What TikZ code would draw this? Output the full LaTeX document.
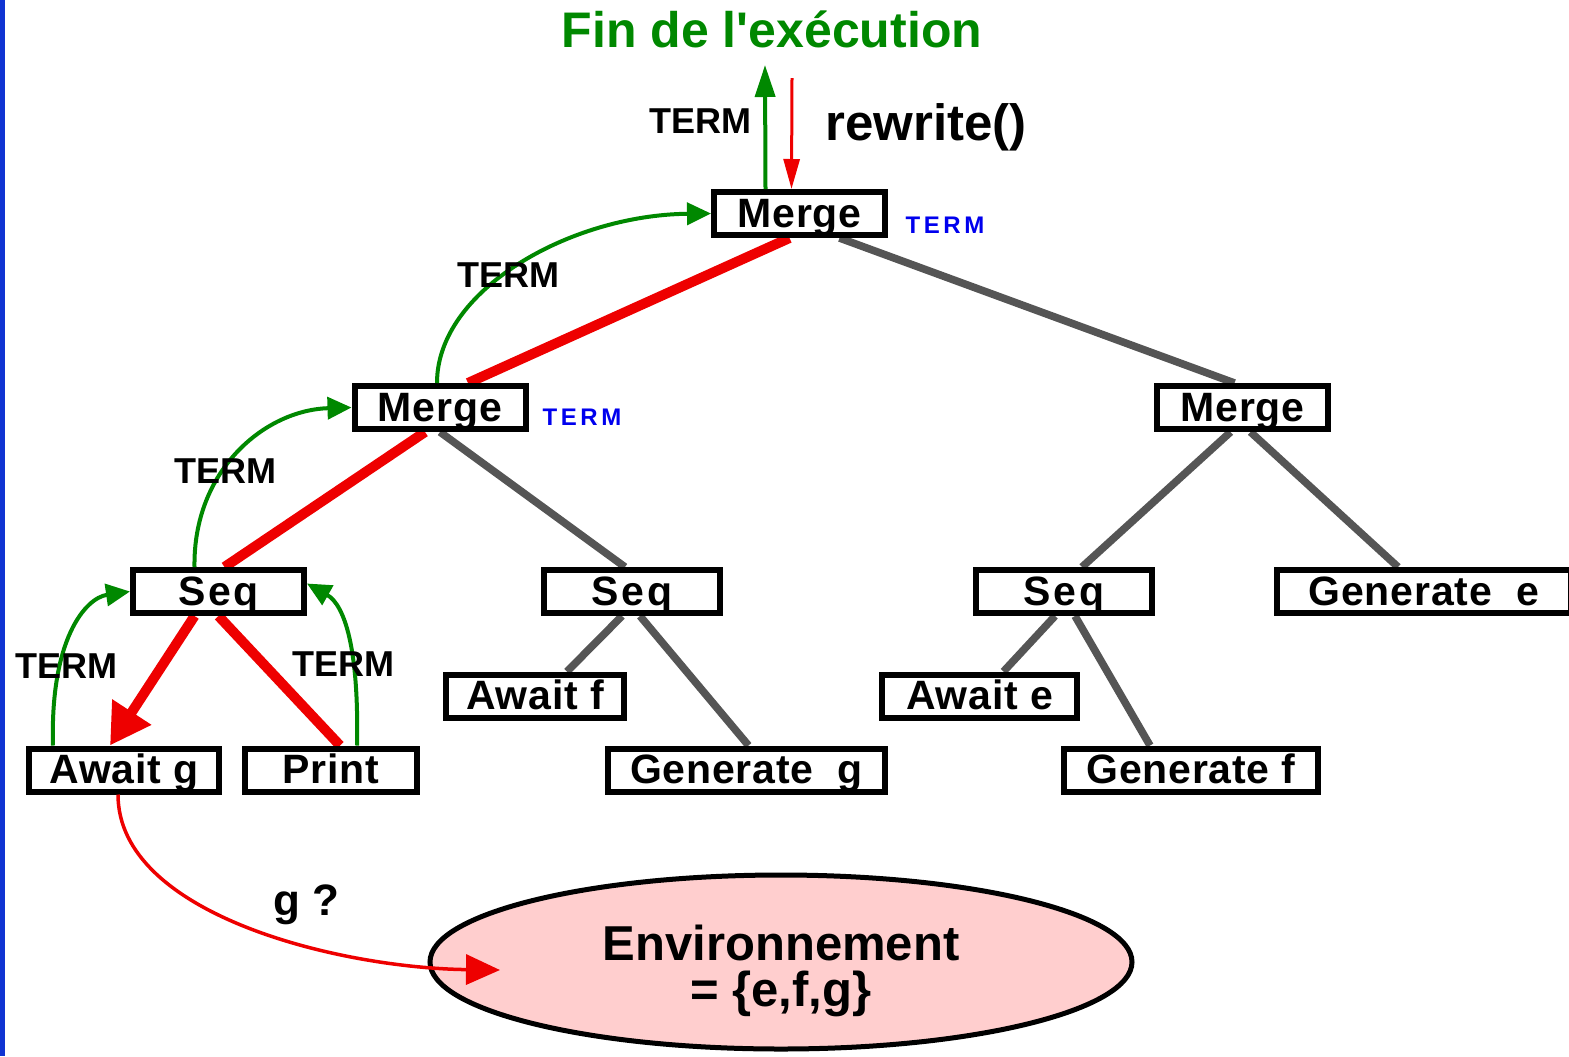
\documentclass[tikz,border=0pt]{standalone}
\usepackage{fontspec}
\setmainfont{Liberation Sans}
\usetikzlibrary{arrows.meta,shapes.geometric,backgrounds,calc}

\definecolor{termgreen}{RGB}{0,136,0}
\definecolor{pathred}{RGB}{238,0,0}
\definecolor{edgegray}{RGB}{85,85,85}
\definecolor{termblue}{RGB}{0,0,238}
\definecolor{envpink}{RGB}{255,206,206}
\definecolor{barblue}{RGB}{16,52,210}

\begin{document}
\begin{tikzpicture}[x=0.5pt,y=-0.5pt,
  opbox/.style={draw=black,line width=3pt,fill=white,inner sep=0pt,
    minimum height=21.5pt,text height=15pt,text depth=1.5pt,
    font=\fontsize{20.5}{21}\selectfont\bfseries\addfontfeature{LetterSpace=2}},
  seqbox/.style={opbox,font=\fontsize{20.5}{21}\selectfont\bfseries\addfontfeature{LetterSpace=7}},
  treeedge/.style={edgegray,line width=3.8pt},
  pathedge/.style={pathred,line width=5pt},
  termarrow/.style={termgreen,line width=2pt,-{Triangle[length=12pt,width=11pt]}},
  termlbl/.style={inner sep=0pt,anchor=base,font=\fontsize{18}{18}\selectfont\bfseries},
  bluelbl/.style={inner sep=0pt,anchor=base,termblue,
    font=\fontsize{12}{12}\selectfont\bfseries\addfontfeature{LetterSpace=15}},
  biglbl/.style={inner sep=0pt,anchor=base,font=\fontsize{25}{25}\selectfont\bfseries},
  envnode/.style={ellipse,draw=black,line width=2.5pt,fill=envpink,inner sep=0pt,
    minimum width=351pt,minimum height=87pt,align=center,
    text height=46pt,text depth=2pt,
    font=\fontsize{24.5}{23}\selectfont\bfseries}
]
\useasboundingbox (0,0) rectangle (1569,1056);

% left border bar
\fill[barblue] (0,0) rectangle (5,1056);

% operator boxes of the tree
\node[opbox,minimum width=85.5pt]   (mt) at (799.5,213.5) {Merge};
\node[opbox,minimum width=85.5pt]   (mm) at (440,407.5)   {Merge};
\node[opbox,minimum width=85.5pt]   (mr) at (1242.5,407.5){Merge};
\node[seqbox,minimum width=85.5pt]  (s1) at (218.5,591.5) {Seq};
\node[seqbox,minimum width=88pt]    (s2) at (632,591.5)   {Seq};
\node[seqbox,minimum width=88pt]    (s3) at (1064,591.5)  {Seq};
\node[opbox,minimum width=147pt]    (ge) at (1424,591.5)  {Generate~~e};
\node[opbox,minimum width=95pt]     (ag) at (124,770)     {Await g};
\node[opbox,minimum width=86pt]     (pr) at (331,770)     {Print};
\node[opbox,minimum width=89pt]     (af) at (535,696)     {Await f};
\node[opbox,minimum width=138.5pt]  (gg) at (746.5,770)   {Generate~~g};
\node[opbox,minimum width=97.5pt]   (ae) at (979.5,696)   {Await e};
\node[opbox,minimum width=127pt]    (gf) at (1191,770)    {Generate f};

% environment
\node[envnode] (env) at (781,962) {Environnement\\= \{e,f,g\}};

% tree edges, behind the boxes
\begin{scope}[on background layer]
  \draw[treeedge] ([xshift=20pt]mt.south)  -- ([xshift=-4pt]mr.north);
  \draw[treeedge] (mm.south)               -- ([xshift=-3.5pt]s2.north);
  \draw[treeedge] ([xshift=-6pt]mr.south)  -- ([xshift=9pt]s3.north);
  \draw[treeedge] ([xshift=4pt]mr.south)   -- ([xshift=-13pt]ge.north);
  \draw[treeedge] ([xshift=-5pt]s2.south)  -- ([xshift=16pt]af.north);
  \draw[treeedge] ([xshift=4pt]s2.south)   -- ([xshift=1pt]gg.north);
  \draw[treeedge] ([xshift=-4.5pt]s3.south)-- ([xshift=12pt]ae.north);
  \draw[treeedge] ([xshift=5.5pt]s3.south) -- ([xshift=-20.5pt]gf.north);
  \draw[pathedge] ([xshift=-5pt]mt.south)  -- ([xshift=14pt]mm.north);
  \draw[pathedge] ([xshift=-7.5pt]mm.south)-- ([xshift=3pt]s1.north);
  \draw[pathedge] (s1.south)               -- ([xshift=4.5pt]pr.north);
  \draw[pathedge,-{Triangle[length=20pt,width=22pt]}]
    ([xshift=-12pt]s1.south) -- ([xshift=-7pt]ag.north);
\end{scope}

% termination signals going up
\draw[termarrow] ([xshift=-1.5pt]mm.north) .. controls (437,290) and (570,215) .. (mt.west);
\draw[termarrow] ([xshift=-12pt]s1.north) .. controls (193,470) and (265,410) .. (mm.west);
\draw[termarrow] ([xshift=-35.5pt]ag.north) .. controls (50,640) and (85,598) .. (s1.west);
\draw[termarrow] ([xshift=13pt]pr.north) .. controls (359,650) and (345,605) .. ([yshift=4pt]s1.east);

% top of the tree
\node[biglbl,termgreen] (fin) at (772,47) {Fin de l\textquotesingle exécution};
\coordinate (upend) at (765,65);
\coordinate (rwstart) at (792,78);
\draw[termgreen,line width=2pt,-{Triangle[length=16pt,width=10pt]}] ([xshift=-17pt]mt.north) -- (upend);
\draw[pathred,line width=1.5pt,-{Triangle[length=15pt,width=8pt]}] (rwstart) -- ([xshift=-4pt]mt.north);
\node[biglbl,font=\fontsize{25.5}{25.5}\selectfont\bfseries] (rw) at (926,140) {rewrite()};

% labels
\node[termlbl] (t0) at (700,133) {TERM};
\node[termlbl] (t1) at (508,287) {TERM};
\node[termlbl] (t2) at (225,483) {TERM};
\node[termlbl] (t3) at (66,678)  {TERM};
\node[termlbl] (t4) at (343,676) {TERM};
\node[bluelbl] (b1) at (945,233) {TERM};
\node[bluelbl] (b2) at (582,425) {TERM};

% query to the environment
\coordinate (envtip) at (500,970);
\draw[pathred,line width=1.75pt,-{Triangle[length=17pt,width=15pt]}]
  ([xshift=-3pt]ag.south) .. controls (118,915) and (340,968) .. (envtip);
\node[biglbl,font=\fontsize{22}{22}\selectfont\bfseries] (gq) at (306,915) {g ?};
\end{tikzpicture}
\end{document}
